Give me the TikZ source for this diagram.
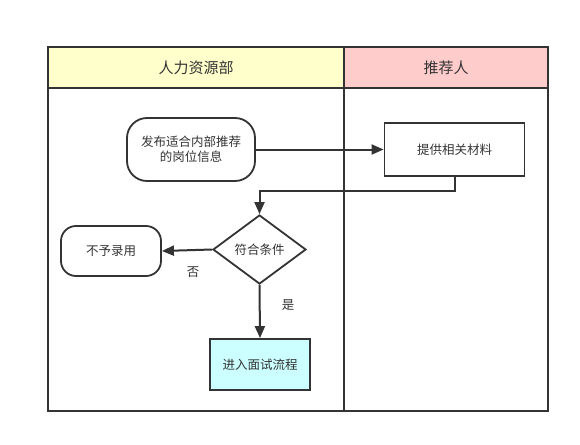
\documentclass[tikz,border=0pt]{standalone}
\usepackage{fontspec}
\setmainfont{Noto Sans CJK SC}
\usetikzlibrary{arrows.meta,shapes.geometric}
\definecolor{ln}{HTML}{333333}
\definecolor{hy}{HTML}{FFFFCC}
\definecolor{hp}{HTML}{FFCCCC}
\definecolor{cy}{HTML}{CCFFFF}
\begin{document}
\begin{tikzpicture}[x=1pt,y=-1pt,
  every node/.style={text=ln,font=\fontsize{12.5}{15}\selectfont},
  frame/.style={draw=ln,line width=2pt},
  nbox/.style={draw=ln,line width=1.8pt,align=center,inner sep=0pt},
  term/.style={nbox,rounded corners=15pt},
  conn/.style={draw=ln,line width=2pt,-{Triangle[length=12pt,width=10pt]}},
  lbl/.style={text=ln}]
\useasboundingbox (0,0) rectangle (580,444);
% lanes
\fill[hy] (48,47) rectangle (344,88);
\fill[hp] (344,47) rectangle (548,88);
\draw[frame] (48,47) rectangle (548,411);
\draw[frame] (48,88) -- (548,88);
\draw[frame] (344,47) -- (344,411);
\node[font=\fontsize{15}{18}\selectfont] (h1) at (196,68) {人力资源部};
\node[font=\fontsize{15}{18}\selectfont] (h2) at (446,68) {推荐人};
% nodes
\node[term,minimum width=128pt,minimum height=63pt,rounded corners=20pt] (n1) at (191,149.5) {发布适合内部推荐\\的岗位信息};
\node[nbox,minimum width=140pt,minimum height=53pt] (n2) at (454.5,149.5) {提供相关材料};
\node[diamond,draw=ln,line width=1.8pt,inner sep=0pt,minimum width=93pt,minimum height=69pt] (d) at (259.5,249.5) {符合条件};
\node[term,minimum width=100pt,minimum height=50pt,rounded corners=15pt] (n3) at (111,251) {不予录用};
\node[nbox,fill=cy,minimum width=100pt,minimum height=51pt] (n4) at (260,364.5) {进入面试流程};
% connectors
\draw[conn] (n1.east) -- (n2.west);
\draw[conn] (n2.south) |- (259.5,191) -- (d.north);
\draw[conn] (d.west) -- (n3.east);
\draw[conn] (d.south) -- (n4.north);
\node[lbl] (no) at (193,272) {否};
\node[lbl] (yes) at (288,305) {是};
\end{tikzpicture}
\end{document}
